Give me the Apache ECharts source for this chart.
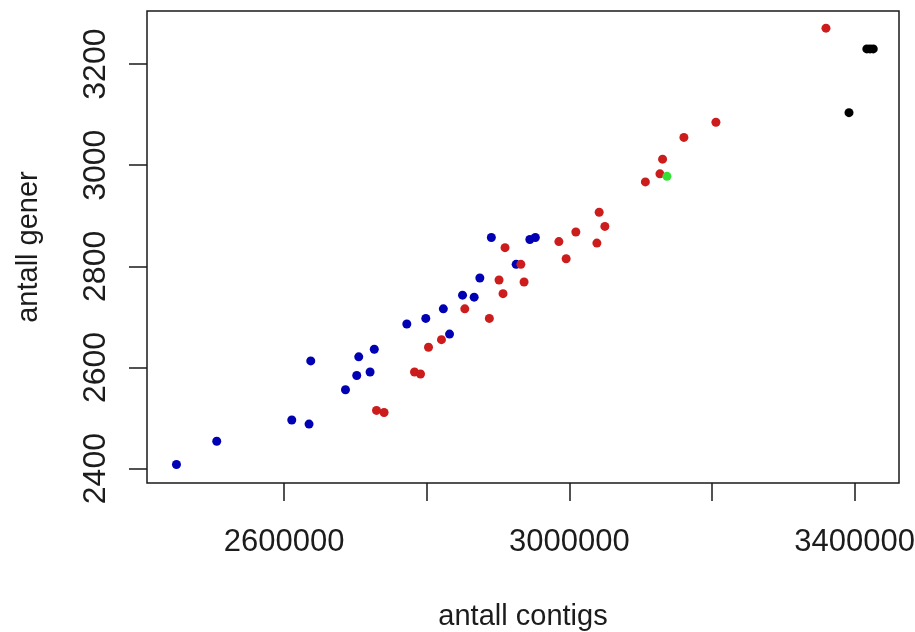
<!DOCTYPE html>
<html>
<head>
<meta charset="utf-8">
<script src="https://cdn.jsdelivr.net/npm/echarts@6/dist/echarts.min.js"></script>
<style>
  html, body { margin: 0; padding: 0; background: #fff; }
  #chart { width: 915px; height: 632px; }
</style>
</head>
<body>
<div id="chart"></div>
<script>
// Contig count vs gene count, grouped by colour
const blueContigs = [2449000, 2505500, 2610700, 2634900, 2637300, 2686000, 2701800, 2704600, 2720500, 2726400,
  2772000, 2798600, 2823200, 2831900, 2850100, 2866400, 2874400, 2890500, 2925300, 2944500, 2952200];
const blueGenes = [2408, 2454, 2496, 2488, 2613, 2556, 2584, 2621, 2591, 2636,
  2686, 2697, 2716, 2666, 2743, 2739, 2777, 2857, 2804, 2853, 2857];

const redContigs = [2729500, 2740100, 2782800, 2791200, 2802400, 2820600, 2853300, 2887700, 2901300, 2906900,
  2909700, 2931900, 2936400, 2985200, 2995400, 3009000, 3038500, 3041700, 3049700, 3106500,
  3126900, 3130600, 3160500, 3205400, 3359700];
const redGenes = [2515, 2511, 2591, 2587, 2640, 2655, 2716, 2697, 2773, 2746,
  2837, 2804, 2769, 2849, 2815, 2868, 2846, 2907, 2879, 2967,
  2983, 3012, 3055, 3085, 3271];

const greenContigs = [3136700];
const greenGenes = [2978];

const blackContigs = [3417000, 3421500, 3426000, 3392000];
const blackGenes = [3230, 3230, 3230, 3104];

const xTicks = [2600000, 2800000, 3000000, 3200000, 3400000];
const xTickLabels = [2600000, 3000000, 3400000];
const yTicks = [2400, 2600, 2800, 3000, 3200];

const xName = 'antall contigs';
const yName = 'antall gener';

function pairs(xs, ys) {
  return xs.map((x, i) => [x, ys[i]]);
}

const FONT = '"Liberation Sans", Arial, sans-serif';
const TEXT = '#1c1c1c';

const chart = echarts.init(document.getElementById('chart'), null, { renderer: 'canvas' });

function dots(name, xs, ys, color) {
  return {
    name: name,
    type: 'scatter',
    data: pairs(xs, ys),
    symbol: 'circle',
    symbolSize: 9,
    itemStyle: { color: color, opacity: 1 },
    emphasis: { disabled: true },
    silent: true
  };
}

chart.setOption({
  animation: false,
  backgroundColor: '#ffffff',
  grid: {
    left: 147, right: 16, top: 11, bottom: 149,
    outerBoundsMode: 'none',
    containLabel: false,
    show: true, borderColor: '#1a1a1a', borderWidth: 1.5, backgroundColor: 'transparent'
  },
  xAxis: {
    type: 'value',
    min: 2407700,
    max: 3462100,
    name: xName,
    nameLocation: 'middle',
    nameGap: 119,
    nameTextStyle: { fontFamily: FONT, fontSize: 29, color: TEXT },
    axisLine: { show: false },
    splitLine: { show: false },
    axisTick: {
      show: true, inside: false, length: 18,
      customValues: xTicks,
      lineStyle: { color: '#1a1a1a', width: 1.5 }
    },
    axisLabel: {
      customValues: xTickLabels,
      margin: 44,
      fontFamily: FONT, fontSize: 31, color: TEXT,
      formatter: v => String(v)
    }
  },
  yAxis: {
    type: 'value',
    min: 2371.5,
    max: 3305,
    name: yName,
    nameLocation: 'middle',
    nameGap: 104,
    nameRotate: 90,
    nameTextStyle: { fontFamily: FONT, fontSize: 29, color: TEXT },
    axisLine: { show: false },
    splitLine: { show: false },
    axisTick: {
      show: true, inside: false, length: 18,
      customValues: yTicks,
      lineStyle: { color: '#1a1a1a', width: 1.5 }
    },
    axisLabel: {
      customValues: yTicks,
      rotate: 90,
      margin: 35,
      fontFamily: FONT, fontSize: 32, color: TEXT,
      formatter: v => String(v)
    }
  },
  series: [
    dots('blue', blueContigs, blueGenes, '#0000b4'),
    dots('red', redContigs, redGenes, '#cc1c1c'),
    dots('green', greenContigs, greenGenes, '#33e033'),
    dots('black', blackContigs, blackGenes, '#000000')
  ]
});
</script>
</body>
</html>
